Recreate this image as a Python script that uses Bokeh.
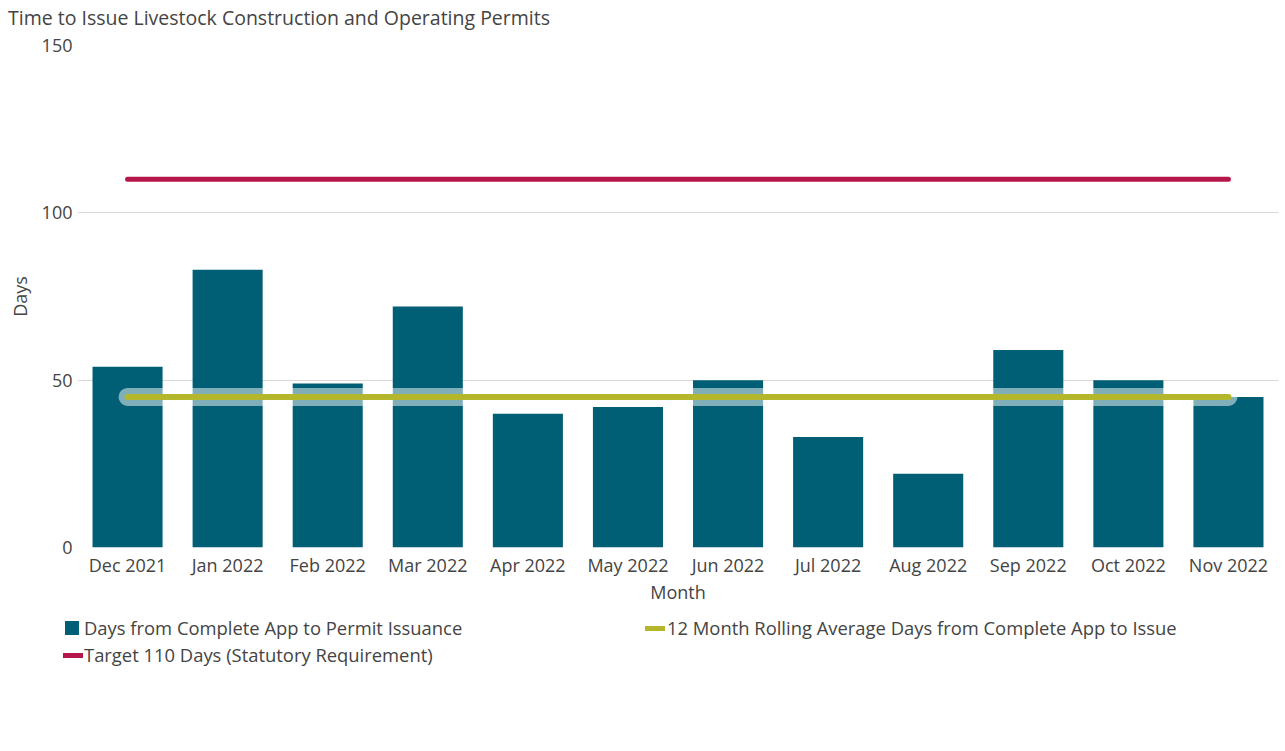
from bokeh.plotting import figure
from bokeh.layouts import column
from bokeh.models import Range1d, FixedTicker, ColumnDataSource, Div
from bokeh.embed import file_html
from bokeh.resources import INLINE

months = ["Dec 2021", "Jan 2022", "Feb 2022", "Mar 2022", "Apr 2022", "May 2022",
          "Jun 2022", "Jul 2022", "Aug 2022", "Sep 2022", "Oct 2022", "Nov 2022"]
days_to_issue = [54, 83, 49, 72, 40, 42, 50, 33, 22, 59, 50, 45]
rolling_avg = [45, 45, 45, 45, 45, 45, 45, 45, 45, 45, 45, 45]
target = [110, 110, 110, 110, 110, 110, 110, 110, 110, 110, 110, 110]

TITLE = "Time to Issue Livestock Construction and Operating Permits"
SERIES = ["Days from Complete App to Permit Issuance",
          "12 Month Rolling Average Days from Complete App to Issue",
          "Target 110 Days (Statutory Requirement)"]
FONT = "Open Sans"
TXT = "#444444"
BAR = "#005e75"
OLIVE = "#b4b72c"
RED = "#b5174b"

title_div = Div(
    text=(f'<div style="padding-top:5px;padding-left:8px;line-height:26px;'
          f'white-space:nowrap;font-family:\'{FONT}\';font-size:19.5px;color:{TXT};">'
          f'{TITLE}</div>'),
    width=1285, height=31, margin=0)

src = ColumnDataSource(dict(m=months, d=days_to_issue, r=rolling_avg, t=target))

p = figure(width=1285, height=584, x_range=months, y_range=Range1d(0, 150),
           output_backend="svg", toolbar_location=None,
           min_border_left=77, min_border_right=7, min_border_top=14,
           min_border_bottom=68)
p.outline_line_color = None
p.background_fill_color = "white"
p.border_fill_color = "white"

p.vbar(x="m", top="d", width=0.7, source=src, fill_color=BAR, line_color=None,
       legend_label=SERIES[0])
p.line(x="m", y="r", source=src, line_color="white", line_alpha=0.5,
       line_width=18, line_cap="round")
p.line(x="m", y="r", source=src, line_color=OLIVE, line_width=6, line_cap="round",
       legend_label=SERIES[1])
p.line(x="m", y="t", source=src, line_color=RED, line_width=5, line_cap="round",
       legend_label=SERIES[2])
p.legend.visible = False  # legend is drawn below as an HTML strip

p.yaxis.ticker = FixedTicker(ticks=[0, 50, 100, 150])
p.yaxis.axis_label = "Days"
p.xaxis.axis_label = "Month"
for ax in (p.xaxis[0], p.yaxis[0]):
    ax.axis_line_color = None
    ax.major_tick_line_color = None
    ax.minor_tick_line_color = None
    ax.major_tick_out = 0
    ax.major_tick_in = 0
    ax.major_label_text_font = FONT
    ax.major_label_text_font_size = "18px"
    ax.major_label_text_color = TXT
    ax.axis_label_text_font = FONT
    ax.axis_label_text_font_size = "18px"
    ax.axis_label_text_font_style = "normal"
    ax.axis_label_text_color = TXT
p.yaxis.major_label_standoff = 5
p.yaxis.axis_label_standoff = 7
p.xaxis.major_label_standoff = 5
p.xaxis.axis_label_standoff = 0

p.xgrid.grid_line_color = None
p.ygrid.grid_line_color = "#d9d9d9"
p.ygrid.grid_line_width = 1


# HTML legend strip below the chart
def swatch(left, top, w, h, color):
    return (f'<span style="position:absolute;left:{left}px;top:{top}px;width:{w}px;'
            f'height:{h}px;background:{color};"></span>')


def label(left, top, text):
    return (f'<span style="position:absolute;left:{left}px;top:{top}px;'
            f'line-height:26px;white-space:nowrap;">{text}</span>')


legend_html = (
    f'<div style="position:relative;width:1285px;height:136px;font-family:\'{FONT}\';'
    f'font-size:18.4px;color:{TXT};">'
    + swatch(65, 6, 14, 14, BAR) + label(84, 0, SERIES[0])
    + swatch(645, 11, 20, 5, OLIVE) + label(667, 0, SERIES[1])
    + swatch(63, 38, 20, 5, RED) + label(84, 27, SERIES[2])
    + '</div>'
)
legend_div = Div(text=legend_html, width=1285, height=136, margin=0)

layout = column(title_div, p, legend_div, spacing=0)
open("out.html", "w").write(file_html(layout, INLINE))
